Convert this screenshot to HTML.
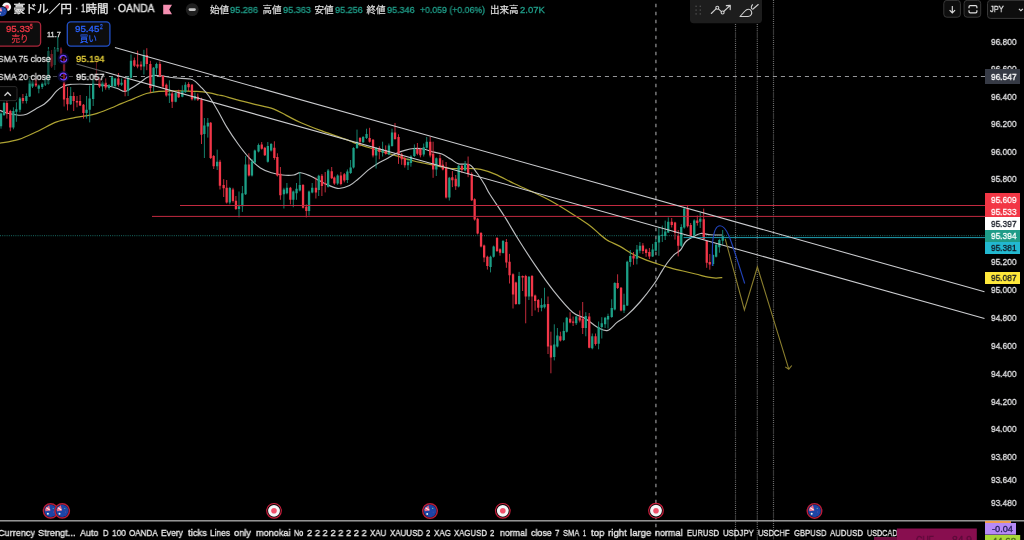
<!DOCTYPE html>
<html><head><meta charset="utf-8"><title>chart</title>
<style>
html,body{margin:0;padding:0;background:#000;overflow:hidden;}
.root{position:relative;width:1024px;height:540px;overflow:hidden;background:#000;}
body{width:1024px;height:540px;overflow:hidden;position:relative;font-family:"Liberation Sans",sans-serif;color:#d1d4dc;}
.t{position:absolute;white-space:nowrap;line-height:1;transform-origin:0 50%;-webkit-text-stroke:.33px;will-change:transform;}
.ax{position:absolute;left:990px;width:28px;white-space:nowrap;line-height:1;font-size:10px;color:#d4d6da;transform-origin:0 50%;}
.bx{position:absolute;left:985px;width:35px;height:12px;}
.abs{position:absolute;}
</style></head><body>
<div class="root">
<svg width="1024" height="540" viewBox="0 0 1024 540" style="position:absolute;left:0;top:0">
<!-- horizontal dashed price line 96.547 -->
<path d="M0 76.5H985" stroke="#c4c6ca" stroke-width="1.15" stroke-dasharray="4.1 3.9" stroke-dashoffset="3.1" opacity=".75"/>
<!-- crosshair vertical -->
<path d="M655.9 0V540" stroke="#808082" stroke-width="1.4" stroke-dasharray="3.7 4.3" stroke-dashoffset="4.35"/>
<!-- vertical dotted -->
<path d="M735.5 24V540M757.3 24V540M773.5 0V540" stroke="#c0c0c0" stroke-width="1.2" stroke-dasharray="1 1.1" opacity=".58"/>
<!-- teal dotted last price -->
<path d="M0 235.6H985" stroke="#26a69a" stroke-width="1.1" stroke-dasharray="1 1.2" opacity=".52"/>
<path d="M0 143.2C3.1 142.6 12.6 141.4 18.9 139.4C25.2 137.4 31.5 134.1 37.8 131.2C44.1 128.3 50.4 124.1 56.7 121.8C63 119.5 69.3 118.7 75.6 117.4C81.9 116.1 88.6 115.8 94.5 114.2C100.4 112.6 106.6 109.8 111.1 108C115.5 106.2 117.4 105.2 121.2 103.6C125 102 129.6 100.3 133.8 98.6C138 96.9 142.2 94.7 146.4 93.5C150.6 92.3 154.8 91.8 159 91.4C163.2 91 167.4 91.1 171.6 91C175.8 90.9 180 90.9 184.2 91C188.4 91.1 192.6 91.1 196.8 91.4C201 91.7 205.8 92.3 209.4 92.9C213.1 93.5 216.3 94.5 218.7 95C221.1 95.5 221.1 95.2 224 96C226.9 96.8 231.2 98.2 236.3 99.6C241.4 101 248.6 102.8 254.8 104.3C261 105.8 268.1 107.1 273.3 108.9C278.6 110.8 281.7 113.1 286.3 115.4C290.9 117.7 295.4 120.3 301 122.8C306.6 125.3 313.4 127.9 319.6 130.2C325.8 132.5 333 134.9 338.1 136.7C343.2 138.5 346.6 139.7 350 141C353.4 142.3 354 142.9 358.5 144.4C363 145.9 370.8 148.1 377 150C383.2 151.9 389.4 153.8 395.6 155.6C401.8 157.4 407.8 159.5 414 161C420.2 162.5 426.4 163.6 432.6 164.8C438.8 166.1 444.8 167.9 451 168.5C457.2 169.1 464.7 168.3 469.6 168.5C474.6 168.7 476.4 168.4 480.7 169.4C485 170.4 490.1 172 495.6 174.3C501.2 176.7 507.8 180.6 514 183.5C520.2 186.4 526.4 189 532.6 191.9C538.8 194.8 544.8 197.6 551 201C557.2 204.4 563.4 208.3 569.6 212.2C575.8 216.1 582.9 220.6 588 224.3C593.1 228 596.9 231.8 600 234.4C603.1 237 603.6 238 606.9 240C610.2 242 615.7 244.1 620 246.4C624.3 248.7 628.4 251.8 632.6 254C636.8 256.2 641 257.9 645.2 259.6C649.4 261.3 653.6 262.6 657.8 264C662 265.4 666.2 266.6 670.4 267.8C674.6 269 678.8 270 683 271C687.2 272 691.4 273 695.6 274C699.8 275 704.9 276.5 708.2 277.2C711.6 277.9 713.4 278 715.7 278.1C718.1 278.2 721.2 277.7 722.3 277.6" stroke="#ada232" stroke-width="1.25" fill="none" stroke-linejoin="round"/><path d="M0 110.4C1.3 110.9 4.4 112.4 7.6 113.2C10.8 114 15.8 115 18.9 115.2C22 115.4 23.7 115.2 26.4 114.2C29.1 113.2 32.3 110.9 35.3 109.2C38.2 107.5 41.6 106 44.1 104.2C46.6 102.4 48.3 100.7 50.4 98.5C52.5 96.3 54.6 92.9 56.7 90.9C58.8 88.9 60.7 87.6 63 86.5C65.3 85.4 67.7 84.8 70.5 84.4C73.3 84 77 84 80 84C83 84 85.5 84.4 88.2 84.4C90.9 84.5 93.5 84.2 96 84.3C98.5 84.4 100.9 85 103 85.3C105.1 85.6 106.2 85.5 108.6 86C111 86.5 114.8 87.6 117.4 88.5C120 89.4 122.2 91.3 124.3 91.4C126.4 91.5 127.6 90.3 130 89C132.4 87.7 136.1 85.4 138.8 83.5C141.5 81.6 144.1 79.1 146.4 77.8C148.7 76.5 150.2 75.8 152.7 75.5C155.2 75.2 158.3 75.6 161.5 75.9C164.7 76.2 168.2 77.1 171.6 77.5C174.9 77.9 178.4 78.2 181.6 78.4C184.8 78.7 188.2 78.5 190.5 79C192.8 79.5 193.6 80.1 195.5 81.6C197.4 83.1 199.6 85.6 201.8 87.9C204 90.2 205.8 91.7 208.5 95.5C211.2 99.3 214.7 105.4 217.8 110.7C220.9 116 223.6 121.9 227 127.4C230.4 133 234.4 138.9 238.1 144C241.8 149.1 245.6 154 249.3 158C253 162 256.7 165.5 260.4 168C264.1 170.5 267.8 171.6 271.5 172.8C275.2 174 278.9 174.6 282.6 175C286.3 175.4 290.7 175.4 293.7 175C296.7 174.6 297.7 172.5 300.5 172.7C303.3 172.9 307.2 174.7 310.4 176C313.6 177.3 316.5 179.1 319.6 180.7C322.7 182.3 325.7 184.1 328.9 185.4C332.1 186.7 335.6 188.5 339 188.5C342.4 188.5 346.2 187.2 349.5 185.6C352.8 184 355.4 181.2 358.5 178.7C361.6 176.2 364.7 172.9 367.8 170.4C370.9 167.9 373.9 165.8 377 163.9C380.1 162 383.2 160.6 386.3 158.9C389.4 157.2 392.5 155.1 395.6 153.7C398.7 152.3 401.7 151.3 404.8 150.4C407.9 149.5 410.9 148.7 414 148.5C417.1 148.3 420.2 148.4 423.3 149C426.4 149.6 429.5 151.1 432.6 151.9C435.7 152.7 438.8 152.8 441.9 154C445 155.2 448.2 157.7 451 159.3C453.8 161 455.4 163 458.5 163.9C461.6 164.8 466.5 163.3 469.6 164.8C472.7 166.3 474.5 169.8 477 173C479.5 176.2 482.2 180.7 484.4 184.3C486.6 187.9 486.6 189.1 490 194.5C493.4 199.9 500.2 209.6 504.8 216.9C509.4 224.2 512.7 230.3 517.8 238.5C522.9 246.7 529.6 257.1 535.6 265.9C541.6 274.7 547.8 283.6 554 291.3C560.2 299 567.3 307.6 572.6 312.2C577.9 316.8 581.3 316.1 585.6 318.7C589.9 321.3 594.8 326.1 598.5 328C602.2 329.9 604.7 331.3 607.8 330.4C610.9 329.5 613.9 324.8 617 322.4C620.1 320 622.5 319.3 626.3 315.9C630.1 312.5 635.4 307.3 640 302C644.6 296.7 650.4 289.1 654 284C657.6 278.9 659.3 275.3 661.6 271.6C663.9 267.9 665.8 264.8 667.9 262C670 259.2 672.1 256.6 674.2 254.6C676.3 252.6 678.6 252.1 680.5 250C682.4 247.9 683.6 244.1 685.5 242C687.4 239.9 689.3 239 691.8 237.6C694.3 236.2 697.5 234 700.6 233.5C703.8 233 707.1 234.6 710.7 234.8C714.3 235.1 720.1 235 722 235" stroke="#bcbec0" stroke-width="1.15" fill="none" stroke-linejoin="round"/><path d="M1 112.5V128.7M4 101.7V116M13.4 107.3V129.3M16.4 102.3V121.8M19.9 97V112.3M26.4 93.4V103.5M29.6 78.3V97M32.5 80V88M38.8 84.5V93.3M42.2 82V89M45.3 77V86M48.4 47V84.5M54.7 47V70M57.8 36.5V52M70.7 87V105M86.6 96V118.6M89.7 85.3V122.4M93.2 78.3V106M102.5 81V91.6M109 84V89.7M112.1 76V86.6M115.1 77.8V88.5M121.6 78.4V86M128.1 76V96M131 54.5V78.4M143.9 49.8V74.6M153.6 67V92.3M156.5 62.7V74.6M169.4 80.3V103M175.7 92.3V102.3M182.3 85.3V97.3M185.4 82.2V92.9M194.9 92.3V100.5M204.4 118V158M207.8 118V137.6M217.2 149.6V170M229.8 186.9V204.4M239 191.5V217.4M242.4 186V211.9M245.6 156V195M252 159V176.5M254.8 149.6V163.5M258.5 143.5V152.4M267.8 142V162.6M271.1 143V151.5M283.9 187.8V208.5M286.9 183V194.3M293.3 190.6V207.2M296.5 183V199.8M299.8 172V191.5M309 190.6V215.6M312.2 183V193.3M318.7 174.8V196M328.1 169V187.6M337.6 174.3V184.8M347.4 169.4V183M350.6 160V174M353.5 147.2V168.5M357 129.6V149M363.1 136V143M366.5 128.7V139M376.1 147V168.5M382.6 141.7V156.5M388.9 143.5V155.2M392 128.7V146.7M408 158.3V170M410.9 155.2V166.7M414.4 144.4V157M423.7 143.5V156.5M426.7 137V148.5M436.3 157.4V176M449.3 176.9V200.5M458.6 165V187.4M465.1 161V171.3M490.5 255.7V272.4M493.6 245.6V257.6M503 240V253.5M519.1 271.9V304.8M528.9 276V300M541.5 298.3V311.3M544.5 287.8V308.5M554.3 324.3V360.4M557.4 328V347.4M563.7 322.4V341M566.7 316.9V332.6M576.2 315.8V325M585.8 312.2V336.3M592.3 333.5V349.3M598.6 321.5V349.3M601.8 317.2V338.5M605.1 316.9V328M608 313.7V328.5M611.7 299.3V317.8M614.8 282.2V310.4M624 293.7V313M627.2 260.7V306M630.3 250V266.7M636.9 245V264.4M639.9 242V253.3M652.6 243.9V257M655.8 238.8V251.4M658.9 226.9V255.8M662.3 225.6V242M665.2 220.6V240M668.3 217.4V233M681.3 224.3V247M684.3 208V228.7M694.2 219.3V236.3M700.2 213V228M713 254.5V266M716.1 244V257.5M719.4 238.8V252.7M722.7 230V244.7" stroke="#1c9f86" stroke-width="1" stroke-opacity=".8" fill="none"/><path d="M6.9 98.5V118.6M10.3 109.8V131.2M22.9 94V103.5M35.9 78.5V87M51.6 50V68M61 47.5V60M64.1 57V106.5M67.5 87V110.4M73.7 92.2V111M77 96V107.3M80.1 95V106M83.5 104V118.6M96.4 61.9V81.4M99.5 77.8V87.9M105.7 78.4V89.7M118.4 73V86.6M125.1 78V96.3M134.4 57.6V67M137.6 50.7V68.3M141 61.4V70.2M146.8 48.2V70.2M150.4 60.8V92.9M159.9 61.4V77.2M163 75.3V88.5M166.3 83.5V96.7M172.2 91.6V108M178.7 89.7V98M188.6 82.2V91M192 84V100.5M197.8 93.5V101M201.5 97.8V144M210.7 122V159M213.7 155V169M220 159.8V189.5M223.7 179.2V197M226.7 180V203.5M233 187.8V202.6M235.9 196V210M248.9 153.3V176.5M261.7 142V149.6M264.8 146.9V156M274.4 141.3V159.8M277.4 153.3V176.5M280.4 167V199.8M290.4 186.9V204.4M303 184V208.5M306.3 204.4V217.4M315.9 177.5V198.5M321.9 174V196M325.2 172V192.4M331.7 167V179M334.4 176.5V184.8M340.9 171.9V185.4M344.3 173V182.4M360 137V146.3M369.6 127.8V142.6M373 139V157.4M379.3 146.3V159.3M385.7 145.4V154.6M395 123V139.8M398.5 134.3V163.9M401.7 152.8V164.8M404.8 157V167.6M417.4 143V155.2M420.4 147.8V157.4M430.2 137V157.4M433.1 141.7V177.8M440 154.6V166.7M442.8 160.2V170.4M446.1 162V198.5M452.4 171V187.1M455.7 175V189.9M461.9 164.8V173M468.1 156.5V177.2M471.7 172.4V201M474.6 198.3V220.6M477.6 217.8V234.4M481 232V247.4M484.1 244.6V262.2M487.4 255.7V269.6M497 237V252M500 248.3V255.7M506.4 239V267.8M509.5 253.9V283.5M513 273.3V308.5M515.9 281.7V304.8M522.6 275.5V291M525.7 274.8V323.3M532 275V316M535.1 294.6V310.4M538.3 299V312.2M548 296.5V354M550.9 331.7V373.3M560.4 331.7V341.5M570.1 312.2V323.3M573.1 316.5V326M579.8 310.5V322.4M582.7 302V334M589.2 313V348.3M595.5 333.5V345.6M617.6 274.3V289M621 287V311.3M633.5 252V264.8M642.9 243.1V254M646.1 248.6V256.8M649.4 248V259M671.7 218V227.5M675 221.8V239.6M678.2 230V256.4M687.6 205.4V227.5M690.7 223V236.3M697.3 215.5V225.6M703.7 208.6V239.6M706.7 240V267.8M709.8 254V269.7" stroke="#f23648" stroke-width="1" stroke-opacity=".8" fill="none"/><path d="M-0.1 113.6h2.3V126.2h-2.3zM2.9 102.9h2.3V114.9h-2.3zM12.2 111h2.3V127.5h-2.3zM15.2 109.2h2.3V111.7h-2.3zM18.8 98.5h2.3V109.8h-2.3zM25.2 96h2.3V101h-2.3zM28.5 80.6h2.3V96.6h-2.3zM31.4 81.4h2.3V86.5h-2.3zM37.6 85.6h2.3V88.8h-2.3zM41.1 83.5h2.3V87h-2.3zM44.1 79h2.3V84.5h-2.3zM47.2 51h2.3V83.8h-2.3zM53.6 49.4h2.3V65h-2.3zM56.6 48.5h2.3V51.5h-2.3zM69.5 96h2.3V104.2h-2.3zM85.4 109.8h2.3V113h-2.3zM88.5 98.5h2.3V109.8h-2.3zM92 79.8h2.3V99h-2.3zM101.3 82.2h2.3V86.6h-2.3zM107.8 85.3h2.3V87.9h-2.3zM110.9 77.2h2.3V86h-2.3zM113.9 78.4h2.3V86h-2.3zM120.4 82.8h2.3V84.7h-2.3zM126.9 77.8h2.3V91h-2.3zM129.8 60.8h2.3V77.8h-2.3zM142.8 55h2.3V66.4h-2.3zM152.4 67.7h2.3V86h-2.3zM155.3 63.9h2.3V68.3h-2.3zM168.2 93.5h2.3V95.4h-2.3zM174.5 92.9h2.3V101.7h-2.3zM181.2 91h2.3V96.7h-2.3zM184.2 84.7h2.3V92.3h-2.3zM193.8 96h2.3V99.2h-2.3zM203.2 125.6h2.3V133.9h-2.3zM206.7 122.8h2.3V126.5h-2.3zM216 161.7h2.3V166.3h-2.3zM228.7 188h2.3V202.6h-2.3zM237.8 206.3h2.3V209h-2.3zM241.2 193.3h2.3V206.3h-2.3zM244.4 164.4h2.3V194.3h-2.3zM250.8 161.7h2.3V175.6h-2.3zM253.7 150.6h2.3V162.6h-2.3zM257.4 145h2.3V151.5h-2.3zM266.7 146h2.3V161.7h-2.3zM270 144h2.3V150.6h-2.3zM282.8 189.6h2.3V194.3h-2.3zM285.8 187.8h2.3V193.3h-2.3zM292.2 191.5h2.3V199.8h-2.3zM295.4 188.7h2.3V193.3h-2.3zM298.7 185h2.3V190.6h-2.3zM307.9 191.5h2.3V211h-2.3zM311.1 187.8h2.3V192.4h-2.3zM317.6 175.7h2.3V190h-2.3zM327 170.6h2.3V186.7h-2.3zM336.5 175.6h2.3V183.5h-2.3zM346.2 171.5h2.3V180h-2.3zM349.5 167.6h2.3V173h-2.3zM352.4 148h2.3V167.6h-2.3zM355.9 141.7h2.3V148h-2.3zM362 137h2.3V142.2h-2.3zM365.4 134h2.3V138h-2.3zM375 148h2.3V155.6h-2.3zM381.5 149h2.3V152.8h-2.3zM387.8 145.4h2.3V154.6h-2.3zM390.9 132.4h2.3V146h-2.3zM406.9 162h2.3V165.2h-2.3zM409.8 156.5h2.3V163h-2.3zM413.2 149h2.3V156h-2.3zM422.6 147.2h2.3V154.6h-2.3zM425.6 141.7h2.3V147.8h-2.3zM435.2 158.3h2.3V169.4h-2.3zM448.2 177.8h2.3V197.6h-2.3zM457.5 165.8h2.3V186.5h-2.3zM464 163.9h2.3V170.4h-2.3zM489.4 256.7h2.3V266.9h-2.3zM492.5 246.5h2.3V256.7h-2.3zM501.9 241h2.3V253h-2.3zM518 276.1h2.3V303.9h-2.3zM527.8 276.7h2.3V296.5h-2.3zM540.4 305h2.3V307.8h-2.3zM543.4 304.2h2.3V307.2h-2.3zM553.1 344.6h2.3V357h-2.3zM556.2 335.4h2.3V346.5h-2.3zM562.6 331h2.3V340h-2.3zM565.6 317.8h2.3V331.7h-2.3zM575.1 316.5h2.3V323.2h-2.3zM584.6 316h2.3V328h-2.3zM591.1 336.3h2.3V348.3h-2.3zM597.5 327h2.3V343.7h-2.3zM600.6 323.3h2.3V327h-2.3zM604 317.8h2.3V324.3h-2.3zM606.9 316h2.3V319.6h-2.3zM610.6 308h2.3V316.9h-2.3zM613.6 283h2.3V309.4h-2.3zM622.9 304.8h2.3V310.4h-2.3zM626.1 261.7h2.3V305.4h-2.3zM629.1 256h2.3V262h-2.3zM635.8 249.4h2.3V258.8h-2.3zM638.8 245.7h2.3V250.8h-2.3zM651.5 249.5h2.3V256.4h-2.3zM654.6 242h2.3V250.8h-2.3zM657.8 235.4h2.3V242.6h-2.3zM661.1 234.7h2.3V236h-2.3zM664.1 231.6h2.3V236h-2.3zM667.1 221.8h2.3V232.5h-2.3zM680.1 226.9h2.3V245.7h-2.3zM683.1 208.6h2.3V227.5h-2.3zM693.1 220.6h2.3V235.4h-2.3zM699.1 218.7h2.3V221.8h-2.3zM711.9 255h2.3V264h-2.3zM715 244.7h2.3V256.7h-2.3zM718.2 240h2.3V247.3h-2.3zM721.6 236.3h2.3V240.7h-2.3z" fill="#1c9f86"/><path d="M5.8 102.9h2.3V113.6h-2.3zM9.2 111h2.3V127.5h-2.3zM21.8 97.9h2.3V101h-2.3zM34.8 79.8h2.3V85.6h-2.3zM50.5 54h2.3V66.6h-2.3zM59.9 49h2.3V59h-2.3zM62.9 58.8h2.3V99.6h-2.3zM66.3 98h2.3V104.2h-2.3zM72.5 96h2.3V101h-2.3zM75.8 101h2.3V102.5h-2.3zM78.9 101h2.3V105.4h-2.3zM82.3 104.8h2.3V113h-2.3zM95.2 79h2.3V80.6h-2.3zM98.3 79h2.3V86.6h-2.3zM104.5 82.8h2.3V87.6h-2.3zM117.2 78.4h2.3V84.7h-2.3zM123.9 80h2.3V91h-2.3zM133.2 60.2h2.3V65.8h-2.3zM136.4 64.6h2.3V66.4h-2.3zM139.8 64.6h2.3V66.4h-2.3zM145.7 55h2.3V63.9h-2.3zM149.2 63.9h2.3V87.9h-2.3zM158.8 63.9h2.3V75.9h-2.3zM161.8 75.9h2.3V86.6h-2.3zM165.2 84.7h2.3V95.4h-2.3zM171 93.5h2.3V101.7h-2.3zM177.5 92.3h2.3V97.3h-2.3zM187.4 84h2.3V87.2h-2.3zM190.8 84.7h2.3V99.2h-2.3zM196.7 96.7h2.3V99.8h-2.3zM200.3 99.6h2.3V134.8h-2.3zM209.5 122.8h2.3V158h-2.3zM212.5 156h2.3V166.3h-2.3zM218.8 161.7h2.3V185.8h-2.3zM222.5 185h2.3V188.3h-2.3zM225.5 187.7h2.3V202.6h-2.3zM231.8 189.6h2.3V201h-2.3zM234.8 200.7h2.3V209h-2.3zM247.8 164.4h2.3V175.6h-2.3zM260.6 144.6h2.3V148.7h-2.3zM263.7 147.8h2.3V155.2h-2.3zM273.2 147.8h2.3V158h-2.3zM276.2 157h2.3V175.6h-2.3zM279.2 173.7h2.3V195.2h-2.3zM289.2 187.8h2.3V199.8h-2.3zM301.9 185h2.3V207.8h-2.3zM305.2 206.7h2.3V211h-2.3zM314.8 187.8h2.3V192.4h-2.3zM320.8 175.7h2.3V186h-2.3zM324.1 183h2.3V184.3h-2.3zM330.6 171.3h2.3V178.3h-2.3zM333.2 177.4h2.3V183.5h-2.3zM339.8 175.6h2.3V183.9h-2.3zM343.2 174.3h2.3V180.4h-2.3zM358.9 138h2.3V141.7h-2.3zM368.5 138h2.3V141.7h-2.3zM371.9 139.8h2.3V155.6h-2.3zM378.2 148h2.3V151.9h-2.3zM384.6 150h2.3V153.7h-2.3zM393.9 132.4h2.3V138.9h-2.3zM397.4 137h2.3V154.6h-2.3zM400.6 154.6h2.3V159.3h-2.3zM403.7 158.3h2.3V165.2h-2.3zM416.2 149h2.3V153.7h-2.3zM419.2 149h2.3V155.2h-2.3zM429.1 141.7h2.3V155.6h-2.3zM432 153.7h2.3V169.4h-2.3zM438.9 158.3h2.3V165.7h-2.3zM441.7 164.8h2.3V169.4h-2.3zM445 167.6h2.3V197.6h-2.3zM451.2 177.2h2.3V180.2h-2.3zM454.6 178.8h2.3V186.2h-2.3zM460.8 165.7h2.3V170h-2.3zM467 163.9h2.3V174.2h-2.3zM470.6 174h2.3V200.2h-2.3zM473.5 199.3h2.3V219.6h-2.3zM476.5 218.7h2.3V233.5h-2.3zM479.9 233h2.3V246.5h-2.3zM483 245.6h2.3V257.6h-2.3zM486.2 256.7h2.3V266h-2.3zM495.9 238h2.3V251h-2.3zM498.9 249.3h2.3V252.8h-2.3zM505.2 241.9h2.3V262.6h-2.3zM508.4 261.8h2.3V275.2h-2.3zM511.9 274.3h2.3V294.6h-2.3zM514.8 282.6h2.3V303.9h-2.3zM521.5 276.1h2.3V277.5h-2.3zM524.6 276.1h2.3V296.5h-2.3zM530.9 276.1h2.3V296.5h-2.3zM534 295.6h2.3V301h-2.3zM537.1 300h2.3V307.8h-2.3zM546.9 304h2.3V346.5h-2.3zM549.8 345.6h2.3V357.6h-2.3zM559.2 336.3h2.3V340.4h-2.3zM569 318.7h2.3V322.4h-2.3zM572 321.5h2.3V322.8h-2.3zM578.6 317.2h2.3V320.4h-2.3zM581.6 318.7h2.3V328h-2.3zM588.1 316.6h2.3V347.8h-2.3zM594.4 336.3h2.3V344h-2.3zM616.5 283h2.3V288h-2.3zM619.9 287.8h2.3V310.4h-2.3zM632.4 255.8h2.3V258.4h-2.3zM641.8 245.4h2.3V251h-2.3zM645 249.5h2.3V253h-2.3zM648.2 252h2.3V256.4h-2.3zM670.6 221.8h2.3V225h-2.3zM673.9 222.4h2.3V233h-2.3zM677.1 235.7h2.3V245.7h-2.3zM686.5 208.6h2.3V226.2h-2.3zM689.6 225h2.3V235.4h-2.3zM696.1 220.6h2.3V223h-2.3zM702.6 219.3h2.3V239h-2.3zM705.6 240.7h2.3V262.7h-2.3zM708.6 262h2.3V264.6h-2.3z" fill="#f23648"/>
<!-- red horizontals -->
<path d="M180 205.5H985M152 216.4H985" stroke="#c22a40" stroke-width="1"/>
<!-- cyan line -->
<path d="M683.6 237.6H985" stroke="#1f9cb0" stroke-width="1"/>
<!-- trend lines -->
<path d="M114.9 47.6L984.5 291.8M76.5 64.1L984.5 318.5" stroke="#cccdd0" stroke-width="1.05" fill="none"/>

<path d="M725.2 238.8L744.4 310L757.4 267L788.8 369.2M785.2 366.9L788.8 369.2L791.8 365.5" stroke="#8a7e2e" stroke-width="1.1" fill="none"/>
<path d="M712.5 266C712.3 255 712.2 246 712.9 240C713.8 232 716 225.7 720 225.7C723.5 225.7 726.5 230 729 236C733 246 738 262 744.7 283.5" stroke="#2142b8" stroke-width="1.15" fill="none"/>
</svg>
<svg width="1024" height="540" viewBox="0 0 1024 540" style="position:absolute;left:0;top:0"><rect x="0" y="49" width="105.5" height="34.6" fill="#000" opacity=".5"/><g transform="translate(6.6 6.9)"><circle r="4.5" fill="#f4f4f6"/><circle cx=".4" r="2.0" fill="#ee5670"/></g><circle cx="2.2" cy="11.6" r="5.5" fill="#000"/><g transform="translate(2.2 11.6)"><circle r="4.60" fill="#1d44a6"/><path d="M-4.1 -1.3L-1.1 -4.3L-0.1 -0.3L-3.8 0.2Z" fill="#ee6f8a"/><path d="M-3.3 -2.5L-0.7 -0.7" stroke="#fbe9ee" stroke-width="0.8"/><circle cx="-2.1" cy="2.1" r="0.7" fill="#e8f6ee"/><circle cx="2.0" cy="-1.9" r="0.4" fill="#70d0a0"/><circle cx="2.3" cy="0.8" r="0.3" fill="#b060a0"/></g><path d="M163.2 4.8H172L169.2 9.5L172 14.2H163.2Z" fill="#f48fb1"/><circle cx="192.2" cy="9.6" r="6.4" fill="#1f1f1f"/><rect x="188.6" y="8.3" width="7.2" height="2.6" rx="1.3" fill="#c4c4c4"/><rect x="-3" y="21.9" width="43.6" height="24.2" rx="3.5" fill="#0d0d0d" stroke="#aa263a" stroke-width="1.3"/><rect x="67.3" y="21.9" width="42.6" height="24.2" rx="3.5" fill="#0d0d0d" stroke="#2250c8" stroke-width="1.3"/><circle cx="63.3" cy="58.7" r="4.3" fill="none" stroke="#0c0c40" stroke-width="3" opacity=".75"/><circle cx="63.3" cy="58.7" r="3.3" fill="none" stroke="#7040ff" stroke-width="1.2" stroke-dasharray="8.6 2.05 8.6 1.48" stroke-dashoffset="0.3"/><circle cx="63.3" cy="76.5" r="4.3" fill="none" stroke="#0c0c40" stroke-width="3" opacity=".75"/><circle cx="63.3" cy="76.5" r="3.3" fill="none" stroke="#7040ff" stroke-width="1.2" stroke-dasharray="8.6 2.05 8.6 1.48" stroke-dashoffset="0.3"/><rect x="-2" y="86.6" width="19" height="14" rx="2" fill="#050505" stroke="#2a2a2a" stroke-width="1"/><path d="M4.5 95.7L7.7 92.5L10.9 95.7" fill="none" stroke="#d4d4d4" stroke-width="1.3"/><path d="M690 0H762V19.5Q762 23.2 758.3 23.2H693.7Q690 23.2 690 19.5Z" fill="#1d1d1d"/><rect x="695.4" y="5.6" width="1.4" height="1.4" fill="#4a4a4a"/><rect x="695.4" y="9.4" width="1.4" height="1.4" fill="#4a4a4a"/><rect x="695.4" y="13.2" width="1.4" height="1.4" fill="#4a4a4a"/><rect x="699.6" y="5.6" width="1.4" height="1.4" fill="#4a4a4a"/><rect x="699.6" y="9.4" width="1.4" height="1.4" fill="#4a4a4a"/><rect x="699.6" y="13.2" width="1.4" height="1.4" fill="#4a4a4a"/><g fill="none" stroke="#cfcfcf" stroke-width="1.1" stroke-linecap="round" stroke-linejoin="round"><path d="M711.3 13.5L716.2 8.7M718.4 8.9L721.4 11.6M723.7 11.5L730 5.7M726.3 5.6L730.3 5.4L730.2 9.6"/><circle cx="717.3" cy="7.7" r="1.5"/><circle cx="722.6" cy="12.5" r="1.5"/><path d="M740 16.5L745 11C746.9 8.75 750 8.5 751.25 11C752.5 13.5 751.25 16.25 748.1 16.5Z"/><path d="M752.5 4.75C751 6.25 750.75 8.75 752.75 9.25L758.25 4.5"/></g><rect x="943.8" y="0.4" width="16.6" height="16.8" rx="3" fill="#0e0e0e" stroke="#383838" stroke-width="1"/><rect x="964.1" y="0.4" width="16.6" height="16.8" rx="3" fill="#0e0e0e" stroke="#383838" stroke-width="1"/><rect x="987.5" y="0.4" width="40" height="18" rx="3" fill="#0e0e0e" stroke="#383838" stroke-width="1"/><path d="M952.3 6V12.9M949.6 10.2L952.3 12.9L955.1 10.2" fill="none" stroke="#e0e0e0" stroke-width="1.1"/><path d="M969 8.3V7Q969 5.7 970.3 5.7H975.6Q976.9 5.7 976.9 7V8.3M969 10.3V11.6Q969 12.9 970.3 12.9H975.6Q976.9 12.9 976.9 11.6V10.3" fill="none" stroke="#e0e0e0" stroke-width="1.2"/><path d="M1018.9 8.8L1020.9 10.7L1022.9 8.8" fill="none" stroke="#e0e0e0" stroke-width="1.1"/><rect x="0" y="520.1" width="1024" height="1.4" fill="#a4a4a4"/><g transform="translate(50.6 510.9)"><circle r="7.18" fill="#10182c" stroke="#b81c38" stroke-width="1.45"/><circle r="6.15" fill="#1d44a6"/><path d="M-5.5 -1.8L-1.5 -5.7L-0.1 -0.4L-5.1 0.3Z" fill="#ee6f8a"/><path d="M-4.4 -3.3L-0.9 -0.9" stroke="#fbe9ee" stroke-width="1.1"/><circle cx="-2.7" cy="2.9" r="1.0" fill="#e8f6ee"/><circle cx="2.6" cy="-2.5" r="0.5" fill="#70d0a0"/><circle cx="3.1" cy="1.1" r="0.4" fill="#b060a0"/></g><g transform="translate(62.2 510.9)"><circle r="7.18" fill="#10182c" stroke="#b81c38" stroke-width="1.45"/><circle r="6.15" fill="#1d44a6"/><path d="M-5.5 -1.8L-1.5 -5.7L-0.1 -0.4L-5.1 0.3Z" fill="#ee6f8a"/><path d="M-4.4 -3.3L-0.9 -0.9" stroke="#fbe9ee" stroke-width="1.1"/><circle cx="-2.7" cy="2.9" r="1.0" fill="#e8f6ee"/><circle cx="2.6" cy="-2.5" r="0.5" fill="#70d0a0"/><circle cx="3.1" cy="1.1" r="0.4" fill="#b060a0"/></g><g transform="translate(274.0 510.8)"><circle r="7.3" fill="#000" stroke="#c81e3c" stroke-width="1.2"/><circle r="5.9" fill="#f4f4f6"/><circle r="2.8" fill="#f0506a"/></g><g transform="translate(430.0 511.0)"><circle r="7.28" fill="#10182c" stroke="#b81c38" stroke-width="1.45"/><circle r="6.25" fill="#1d44a6"/><path d="M-5.6 -1.8L-1.6 -5.8L-0.1 -0.4L-5.1 0.3Z" fill="#ee6f8a"/><path d="M-4.5 -3.3L-0.9 -0.9" stroke="#fbe9ee" stroke-width="1.1"/><circle cx="-2.8" cy="2.9" r="1.0" fill="#e8f6ee"/><circle cx="2.7" cy="-2.6" r="0.6" fill="#70d0a0"/><circle cx="3.1" cy="1.1" r="0.4" fill="#b060a0"/></g><g transform="translate(502.8 510.8)"><circle r="7.3" fill="#000" stroke="#c81e3c" stroke-width="1.2"/><circle r="5.9" fill="#f4f4f6"/><circle r="2.8" fill="#f0506a"/></g><g transform="translate(656.0 510.7)"><circle r="7.3" fill="#000" stroke="#c81e3c" stroke-width="1.2"/><circle r="5.9" fill="#f4f4f6"/><circle r="2.8" fill="#f0506a"/></g><g transform="translate(814.5 510.9)"><circle r="7.28" fill="#10182c" stroke="#b81c38" stroke-width="1.45"/><circle r="6.25" fill="#1d44a6"/><path d="M-5.6 -1.8L-1.6 -5.8L-0.1 -0.4L-5.1 0.3Z" fill="#ee6f8a"/><path d="M-4.5 -3.3L-0.9 -0.9" stroke="#fbe9ee" stroke-width="1.1"/><circle cx="-2.8" cy="2.9" r="1.0" fill="#e8f6ee"/><circle cx="2.7" cy="-2.6" r="0.6" fill="#70d0a0"/><circle cx="3.1" cy="1.1" r="0.4" fill="#b060a0"/></g></svg><span class="t" style="left:990.8px;top:37.1px;font-size:9.78px;color:#e2e2e4;transform:scaleX(0.854);">96.800</span><span class="t" style="left:990.8px;top:64.0px;font-size:9.78px;color:#e2e2e4;transform:scaleX(0.854);">96.600</span><span class="t" style="left:990.8px;top:91.6px;font-size:9.78px;color:#e2e2e4;transform:scaleX(0.854);">96.400</span><span class="t" style="left:990.8px;top:119.2px;font-size:9.78px;color:#e2e2e4;transform:scaleX(0.854);">96.200</span><span class="t" style="left:990.8px;top:146.7px;font-size:9.78px;color:#e2e2e4;transform:scaleX(0.854);">96.000</span><span class="t" style="left:990.8px;top:174.2px;font-size:9.78px;color:#e2e2e4;transform:scaleX(0.854);">95.800</span><span class="t" style="left:990.8px;top:257.4px;font-size:9.78px;color:#e2e2e4;transform:scaleX(0.854);">95.200</span><span class="t" style="left:990.8px;top:285.4px;font-size:9.78px;color:#e2e2e4;transform:scaleX(0.854);">95.000</span><span class="t" style="left:990.8px;top:313.2px;font-size:9.78px;color:#e2e2e4;transform:scaleX(0.854);">94.800</span><span class="t" style="left:990.8px;top:341.0px;font-size:9.78px;color:#e2e2e4;transform:scaleX(0.854);">94.600</span><span class="t" style="left:990.8px;top:368.8px;font-size:9.78px;color:#e2e2e4;transform:scaleX(0.854);">94.400</span><span class="t" style="left:990.8px;top:396.6px;font-size:9.78px;color:#e2e2e4;transform:scaleX(0.854);">94.200</span><span class="t" style="left:990.8px;top:424.4px;font-size:9.78px;color:#e2e2e4;transform:scaleX(0.854);">94.000</span><span class="t" style="left:990.8px;top:452.4px;font-size:9.78px;color:#e2e2e4;transform:scaleX(0.854);">93.800</span><span class="t" style="left:990.8px;top:474.9px;font-size:9.78px;color:#e2e2e4;transform:scaleX(0.854);">93.640</span><span class="t" style="left:990.8px;top:497.9px;font-size:9.78px;color:#e2e2e4;transform:scaleX(0.854);">93.480</span><div class="abs" style="left:985px;top:68.9px;width:35.2px;height:15.0px;background:#363a45"></div><div class="abs" style="left:985px;top:193.0px;width:35.2px;height:12.2px;background:#f23645"></div><div class="abs" style="left:985px;top:205.2px;width:35.2px;height:12.2px;background:#f23645"></div><div class="abs" style="left:985px;top:217.4px;width:35.2px;height:12.2px;background:#ffffff"></div><div class="abs" style="left:985px;top:229.6px;width:35.2px;height:12.2px;background:#1f9c88"></div><div class="abs" style="left:985px;top:241.8px;width:35.2px;height:12.2px;background:#22b8d0"></div><div class="abs" style="left:985px;top:272.0px;width:35.2px;height:12.0px;background:#ffe83b"></div><svg width="1024" height="540" viewBox="0 0 1024 540" style="position:absolute;left:0;top:0" font-family="&quot;Liberation Sans&quot;, &quot;Noto Sans CJK JP&quot;, sans-serif"><text x="13.6" y="12.8" font-size="11.7" fill="#e6e6e6" stroke="#e6e6e6" stroke-width="0.3">豪ドル／円</text><text x="85.6" y="12.8" font-size="11.5" fill="#e6e6e6" stroke="#e6e6e6" stroke-width="0.3">時間</text><text x="210" y="12.5" font-size="9.5" fill="#e0e0e0" stroke="#e0e0e0" stroke-width="0.2">始値</text><text x="262.5" y="12.5" font-size="9.5" fill="#e0e0e0" stroke="#e0e0e0" stroke-width="0.2">高値</text><text x="314.5" y="12.5" font-size="9.5" fill="#e0e0e0" stroke="#e0e0e0" stroke-width="0.2">安値</text><text x="366.5" y="12.5" font-size="9.5" fill="#e0e0e0" stroke="#e0e0e0" stroke-width="0.2">終値</text><text x="490" y="12.5" font-size="9.5" fill="#e0e0e0" stroke="#e0e0e0" stroke-width="0.2">出来高</text><text x="11.4" y="42.4" font-size="8.6" fill="#f23645" stroke="#f23645" stroke-width="0.2">売り</text><text x="79.7" y="42.4" font-size="8.6" fill="#2962ff" stroke="#2962ff" stroke-width="0.2">買い</text></svg><span class="t" style="left:230.0px;top:5.0px;font-size:9.43px;color:#1f9c88;transform:scaleX(0.975);">95.286</span><span class="t" style="left:282.5px;top:5.0px;font-size:9.43px;color:#1f9c88;transform:scaleX(0.971);">95.363</span><span class="t" style="left:334.5px;top:5.0px;font-size:9.43px;color:#1f9c88;transform:scaleX(0.964);">95.256</span><span class="t" style="left:386.6px;top:5.0px;font-size:9.43px;color:#1f9c88;transform:scaleX(0.961);">95.346</span><span class="t" style="left:420.0px;top:5.0px;font-size:9.43px;color:#1f9c88;transform:scaleX(0.926);">+0.059 (+0.06%)</span><span class="t" style="left:519.5px;top:5.0px;font-size:9.43px;color:#1f9c88;transform:scaleX(1.007);">2.07K</span><span class="t" style="left:75.0px;top:4.1px;font-size:10.47px;color:#d4d6da;transform:scaleX(0.857);">·</span><span class="t" style="left:80.8px;top:4.1px;font-size:10.47px;color:#e6e6e6;transform:scaleX(0.721);">1</span><span class="t" style="left:113.0px;top:4.1px;font-size:10.47px;color:#d4d6da;transform:scaleX(0.857);">·</span><span class="t" style="left:118.0px;top:4.1px;font-size:10.47px;color:#e6e6e6;transform:scaleX(0.980);">OANDA</span><span class="t" style="left:5.7px;top:24.0px;font-size:9.64px;color:#f23645;">95.33</span><span class="t" style="left:30.2px;top:23.8px;font-size:6.42px;color:#f23645;transform:scaleX(0.783);">5</span><span class="t" style="left:74.6px;top:24.0px;font-size:9.64px;color:#2962ff;transform:scaleX(1.013);">95.45</span><span class="t" style="left:99.5px;top:23.8px;font-size:6.42px;color:#2962ff;transform:scaleX(0.783);">2</span><span class="t" style="left:47.2px;top:31.4px;font-size:7.26px;color:#d8d8d8;transform:scaleX(1.016);">11.7</span><span class="t" style="left:-2.2px;top:54.3px;font-size:9.64px;color:#dcdcdc;transform:scaleX(0.894);">SMA 75 close</span><span class="t" style="left:75.6px;top:54.3px;font-size:9.64px;color:#e6cf3a;transform:scaleX(0.971);">95.194</span><span class="t" style="left:-2.2px;top:71.5px;font-size:9.64px;color:#dcdcdc;transform:scaleX(0.894);">SMA 20 close</span><span class="t" style="left:75.6px;top:71.5px;font-size:9.64px;color:#e4e4e4;transform:scaleX(0.971);">95.057</span><span class="t" style="left:990.0px;top:4.3px;font-size:9.78px;color:#e0e0e0;transform:scaleX(0.759);">JPY</span><span class="t" style="left:990.8px;top:71.8px;font-size:9.78px;color:#ffffff;transform:scaleX(0.854);">96.547</span><span class="t" style="left:990.8px;top:194.5px;font-size:9.78px;color:#ffffff;transform:scaleX(0.854);">95.609</span><span class="t" style="left:990.8px;top:206.7px;font-size:9.78px;color:#ffffff;transform:scaleX(0.854);">95.533</span><span class="t" style="left:990.8px;top:218.9px;font-size:9.78px;color:#131722;transform:scaleX(0.854);">95.397</span><span class="t" style="left:990.8px;top:231.1px;font-size:9.78px;color:#ffffff;transform:scaleX(0.854);">95.394</span><span class="t" style="left:990.8px;top:243.3px;font-size:9.78px;color:#131722;transform:scaleX(0.854);">95.381</span><span class="t" style="left:990.8px;top:273.4px;font-size:9.78px;color:#131722;transform:scaleX(0.854);">95.087</span><span class="t" style="left:-2.0px;top:528.3px;font-size:9.78px;color:#e8e8e8;transform:scaleX(0.934);">Currency</span><span class="t" style="left:38.0px;top:528.3px;font-size:9.78px;color:#e8e8e8;transform:scaleX(0.946);">Strengt...</span><span class="t" style="left:80.0px;top:528.3px;font-size:9.78px;color:#e8e8e8;transform:scaleX(0.911);">Auto</span><span class="t" style="left:102.5px;top:528.3px;font-size:9.78px;color:#e8e8e8;transform:scaleX(0.779);">D</span><span class="t" style="left:111.8px;top:528.3px;font-size:9.78px;color:#e8e8e8;transform:scaleX(0.859);">100</span><span class="t" style="left:129.3px;top:528.3px;font-size:9.78px;color:#e8e8e8;transform:scaleX(0.826);">OANDA</span><span class="t" style="left:161.3px;top:528.3px;font-size:9.78px;color:#e8e8e8;transform:scaleX(0.881);">Every</span><span class="t" style="left:187.5px;top:528.3px;font-size:9.78px;color:#e8e8e8;transform:scaleX(0.962);">ticks</span><span class="t" style="left:210.0px;top:528.3px;font-size:9.78px;color:#e8e8e8;transform:scaleX(0.856);">Lines</span><span class="t" style="left:233.8px;top:528.3px;font-size:9.78px;color:#e8e8e8;transform:scaleX(0.949);">only</span><span class="t" style="left:255.5px;top:528.3px;font-size:9.78px;color:#e8e8e8;transform:scaleX(0.934);">monokai</span><span class="t" style="left:293.8px;top:528.3px;font-size:9.78px;color:#e8e8e8;transform:scaleX(0.737);">No</span><span class="t" style="left:307.0px;top:528.3px;font-size:9.78px;color:#e8e8e8;transform:scaleX(0.958);">2 2 2 2 2 2 2 2</span><span class="t" style="left:370.0px;top:528.3px;font-size:9.78px;color:#e8e8e8;transform:scaleX(0.811);">XAU</span><span class="t" style="left:389.5px;top:528.3px;font-size:9.78px;color:#e8e8e8;transform:scaleX(0.811);">XAUUSD</span><span class="t" style="left:425.8px;top:528.3px;font-size:9.78px;color:#e8e8e8;transform:scaleX(0.772);">2</span><span class="t" style="left:433.8px;top:528.3px;font-size:9.78px;color:#e8e8e8;transform:scaleX(0.824);">XAG</span><span class="t" style="left:453.8px;top:528.3px;font-size:9.78px;color:#e8e8e8;transform:scaleX(0.800);">XAGUSD</span><span class="t" style="left:490.0px;top:528.3px;font-size:9.78px;color:#e8e8e8;transform:scaleX(0.791);">2</span><span class="t" style="left:500.0px;top:528.3px;font-size:9.78px;color:#e8e8e8;transform:scaleX(0.904);">normal</span><span class="t" style="left:530.5px;top:528.3px;font-size:9.78px;color:#e8e8e8;transform:scaleX(0.912);">close</span><span class="t" style="left:555.0px;top:528.3px;font-size:9.78px;color:#e8e8e8;transform:scaleX(0.828);">7</span><span class="t" style="left:563.0px;top:528.3px;font-size:9.78px;color:#e8e8e8;transform:scaleX(0.770);">SMA</span><span class="t" style="left:583.4px;top:528.3px;font-size:9.78px;color:#e8e8e8;transform:scaleX(0.533);">1</span><span class="t" style="left:590.5px;top:528.3px;font-size:9.78px;color:#e8e8e8;transform:scaleX(0.980);">top</span><span class="t" style="left:607.5px;top:528.3px;font-size:9.78px;color:#e8e8e8;transform:scaleX(0.989);">right</span><span class="t" style="left:630.0px;top:528.3px;font-size:9.78px;color:#e8e8e8;transform:scaleX(0.981);">large</span><span class="t" style="left:655.0px;top:528.3px;font-size:9.78px;color:#e8e8e8;transform:scaleX(0.921);">normal</span><span class="t" style="left:686.8px;top:528.3px;font-size:9.78px;color:#e8e8e8;transform:scaleX(0.776);">EURUSD</span><span class="t" style="left:723.0px;top:528.3px;font-size:9.78px;color:#e8e8e8;transform:scaleX(0.799);">USDJPY</span><span class="t" style="left:758.0px;top:528.3px;font-size:9.78px;color:#e8e8e8;transform:scaleX(0.774);">USDCHF</span><span class="t" style="left:793.8px;top:528.3px;font-size:9.78px;color:#e8e8e8;transform:scaleX(0.788);">GBPUSD</span><span class="t" style="left:830.0px;top:528.3px;font-size:9.78px;color:#e8e8e8;transform:scaleX(0.800);">AUDUSD</span><span class="t" style="left:867.0px;top:528.3px;font-size:9.78px;color:#e8e8e8;transform:scaleX(0.739);">USDCAD</span><svg width="1024" height="540" viewBox="0 0 1024 540" style="position:absolute;left:0;top:0"><rect x="896.8" y="528.5" width="80" height="12" fill="#880e4f"/><rect x="874" y="537" width="23" height="3" fill="#6a0c3e"/><rect x="985" y="521" width="26" height="2.2" fill="#f0a050"/><rect x="985" y="523" width="31" height="11.6" fill="#b68af6"/><rect x="985" y="535" width="35.2" height="5" fill="#a8d838"/></svg><span class="t" style="left:991.5px;top:524.7px;font-size:8.66px;color:#2a2060;transform:scaleX(1.064);">-0.04</span><span class="t" style="left:916.0px;top:535.7px;font-size:10.34px;color:#5c0c3a;transform:scaleX(0.838);">CHF</span><span class="t" style="left:952.0px;top:535.7px;font-size:10.34px;color:#5c0c3a;transform:scaleX(0.995);">84.9</span><span class="t" style="left:992.0px;top:536.5px;font-size:8.80px;color:#4a6a18;transform:scaleX(1.090);">44.68</span>
</div>
</body></html>
